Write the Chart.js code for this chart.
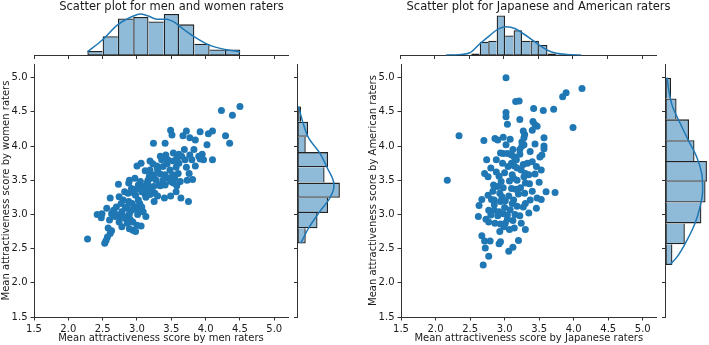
<!DOCTYPE html>
<html>
<head>
<meta charset="utf-8">
<title>Scatter plots</title>
<script src="https://cdn.jsdelivr.net/npm/chart.js@4.4.1/dist/chart.umd.min.js"></script>
<style>
  html, body { margin: 0; padding: 0; background: #fff; }
  #fig { position: relative; width: 709px; height: 345px; overflow: hidden; background: #fff; }
  #fig canvas { position: absolute; }
</style>
</head>
<body>
<div id="fig">
  <canvas id="mainA"></canvas>
  <canvas id="topA"></canvas>
  <canvas id="sideA"></canvas>
  <canvas id="mainB"></canvas>
  <canvas id="topB"></canvas>
  <canvas id="sideB"></canvas>
</div>
<script>
// ---------- Datos ----------
var axisLimits = [1.5, 5.2];
var tickValues = [1.5, 2.0, 2.5, 3.0, 3.5, 4.0, 4.5, 5.0];

// Panel 1: hombres (x) vs mujeres (y)
var menScores = [
  4.50, 4.23, 4.39, 4.35, 4.29, 3.49, 3.72, 3.92, 4.04, 4.10, 3.51, 3.67, 3.77, 3.85, 3.24, 3.41,
  4.02, 3.69, 3.42, 3.34, 3.77, 3.80, 3.95, 3.92, 4.10, 3.97, 3.58, 3.19, 3.06, 3.00, 3.36, 3.45,
  3.53, 3.61, 3.70, 3.57, 3.72, 3.29, 3.38, 3.48, 3.12, 3.25, 3.34, 3.41, 3.52, 3.60, 3.20, 3.16,
  3.28, 2.97, 2.89, 2.73, 2.88, 3.02, 3.09, 3.18, 3.24, 3.45, 3.49, 3.53, 3.63, 3.73, 3.81, 3.41,
  3.58, 3.34, 3.09, 3.16, 3.21, 3.26, 3.19, 3.12, 3.00, 2.92, 2.82, 2.87, 3.40, 3.49, 3.57, 3.64,
  3.75, 2.61, 2.74, 2.80, 2.88, 2.93, 3.04, 3.07, 2.98, 2.85, 2.92, 2.66, 2.70, 2.63, 2.78, 2.89,
  3.01, 3.13, 2.42, 2.48, 2.60, 2.75, 2.83, 2.86, 2.94, 3.06, 2.94, 2.98, 2.63, 2.61, 2.57, 2.55,
  2.53, 2.28, 2.81, 2.90, 2.70, 2.56, 3.15, 3.30, 3.23, 3.44, 3.65, 3.85, 3.76, 3.07, 3.13, 3.30,
  3.05, 2.96, 2.77, 3.01, 2.83, 2.68, 3.00, 2.89, 2.49, 2.74, 3.55, 3.38, 3.18, 3.61, 3.53, 3.83,
  3.90, 3.32, 3.25, 3.02, 3.09, 2.58, 2.78, 3.19, 2.98
];
var womenScores = [
  4.58, 4.52, 4.45, 4.04, 4.15, 4.23, 4.22, 4.21, 4.18, 4.22, 4.16, 4.15, 4.12, 4.09, 4.04, 4.04,
  4.02, 3.95, 3.87, 3.85, 3.87, 3.80, 3.88, 3.81, 3.80, 3.80, 3.82, 3.78, 3.75, 3.71, 3.80, 3.80,
  3.78, 3.75, 3.80, 3.69, 3.69, 3.71, 3.70, 3.65, 3.64, 3.58, 3.59, 3.58, 3.58, 3.60, 3.53, 3.50,
  3.50, 3.53, 3.50, 3.44, 3.46, 3.43, 3.41, 3.41, 3.41, 3.53, 3.48, 3.46, 3.48, 3.50, 3.51, 3.43,
  3.42, 3.42, 3.36, 3.33, 3.34, 3.31, 3.29, 3.29, 3.38, 3.38, 3.33, 3.31, 3.24, 3.27, 3.33, 3.24,
  3.19, 3.24, 3.26, 3.21, 3.19, 3.16, 3.16, 3.11, 3.11, 3.11, 3.06, 3.06, 3.11, 3.01, 3.04, 3.01,
  3.00, 2.97, 3.00, 2.95, 2.92, 2.97, 2.94, 2.87, 2.89, 2.83, 2.77, 2.75, 2.76, 2.72, 2.67, 2.62,
  2.58, 2.64, 2.97, 2.93, 3.00, 3.09, 3.46, 3.66, 3.74, 3.74, 3.85, 3.71, 3.60, 3.33, 3.25, 3.27,
  3.48, 3.31, 3.16, 3.05, 3.09, 2.97, 2.84, 2.79, 3.01, 2.89, 3.53, 3.50, 3.56, 3.88, 3.90, 3.95,
  3.85, 3.43, 3.19, 3.21, 3.04, 2.80, 2.82, 3.65, 3.28
];

// histograma marginal x (hombres)
var menBinEdges = [2.277, 2.500, 2.722, 2.945, 3.168, 3.390, 3.613, 3.836, 4.058, 4.281, 4.503];
var menCounts = [3, 13, 25, 26, 23, 28, 21, 8, 4, 4];
var menKdeX = [2.277, 2.491, 2.714, 2.948, 3.045, 3.166, 3.289, 3.434, 3.531, 3.618, 3.837, 4.056, 4.284, 4.503];
var menKdeY = [2.5, 10.3, 20.5, 26.6, 27.9, 26.6, 24.5, 24.5, 22.8, 19.8, 12.6, 7.0, 4.1, 2.5];

// histograma marginal y (mujeres)
var womenBinEdges = [2.575, 2.798, 3.020, 3.243, 3.466, 3.689, 3.911, 4.134, 4.357, 4.580];
var womenCounts = [7, 17, 26, 36, 23, 26, 7, 9, 3];
var womenKdeY = [2.58, 2.80, 3.02, 3.24, 3.40, 3.46, 3.69, 3.90, 4.12, 4.35, 4.58];
var womenKdeX = [2.8, 9.4, 18.0, 27.4, 30.9, 30.8, 25.0, 18.8, 9.4, 4.5, 0.9];

// Panel 2: japoneses (x) vs americanos (y)
var japaneseScores = [
  3.02, 4.12, 3.89, 3.84, 3.16, 3.21, 3.42, 3.56, 3.71, 3.02, 3.02, 3.04, 3.22, 3.41, 3.44, 3.47,
  3.40, 3.99, 3.27, 3.29, 3.28, 2.34, 2.70, 2.86, 2.90, 2.98, 3.08, 3.02, 3.57, 3.44, 3.57, 3.25,
  3.28, 3.22, 3.57, 2.94, 2.98, 3.04, 3.10, 3.14, 3.22, 3.54, 3.51, 2.74, 2.88, 2.97, 3.10, 3.14,
  3.18, 3.27, 3.33, 3.40, 3.53, 3.44, 3.30, 3.35, 2.71, 2.76, 2.92, 3.00, 3.11, 3.13, 3.07, 3.18,
  2.17, 2.84, 2.90, 2.98, 3.10, 3.23, 3.30, 3.29, 3.60, 3.73, 2.93, 2.67, 2.81, 2.85, 2.94, 3.01,
  3.13, 3.11, 3.27, 3.30, 3.37, 3.47, 3.53, 3.46, 2.63, 2.77, 2.85, 2.92, 2.98, 3.04, 3.15, 3.22,
  2.62, 2.73, 2.77, 2.86, 2.94, 3.01, 3.04, 3.14, 3.07, 2.93, 3.30, 2.67, 2.71, 2.79, 2.92, 2.94,
  3.20, 2.72, 3.12, 3.06, 2.77, 2.69, 2.80, 2.88, 3.05, 3.17, 3.24, 3.36, 3.20, 3.06, 2.96, 2.83,
  2.76, 3.00, 3.08, 3.18, 2.90, 2.80, 3.12, 3.24, 3.35, 2.95, 3.28, 3.46, 3.37, 3.12, 2.99, 3.16,
  2.85, 3.40, 3.50, 3.25
];
var americanScores = [
  5.00, 4.84, 4.78, 4.72, 4.65, 4.66, 4.55, 4.52, 4.54, 4.49, 4.43, 4.32, 4.39, 4.36, 4.31, 4.29,
  4.23, 4.27, 4.22, 4.17, 4.12, 4.15, 4.08, 4.11, 4.09, 4.13, 4.10, 4.02, 4.12, 4.03, 4.00, 4.00,
  4.02, 3.95, 3.96, 3.90, 3.89, 3.89, 3.87, 3.84, 3.88, 3.87, 3.84, 3.80, 3.80, 3.75, 3.75, 3.71,
  3.68, 3.73, 3.75, 3.77, 3.65, 3.59, 3.60, 3.58, 3.60, 3.55, 3.56, 3.61, 3.58, 3.53, 3.49, 3.50,
  3.50, 3.43, 3.41, 3.39, 3.38, 3.39, 3.46, 3.31, 3.33, 3.32, 3.31, 3.22, 3.22, 3.21, 3.19, 3.20,
  3.21, 3.16, 3.11, 3.16, 3.21, 3.24, 3.22, 3.09, 3.13, 3.06, 3.06, 3.04, 3.01, 2.99, 3.00, 2.98,
  2.97, 2.93, 2.89, 2.87, 2.86, 2.87, 2.93, 2.80, 2.78, 2.75, 2.78, 2.69, 2.61, 2.61, 2.57, 2.60,
  2.62, 2.51, 2.52, 2.46, 2.39, 2.26, 3.68, 3.62, 3.70, 3.80, 3.65, 3.45, 3.30, 3.27, 3.26, 3.34,
  3.28, 3.10, 3.07, 3.12, 2.98, 2.99, 2.91, 2.87, 3.02, 3.48, 3.55, 3.70, 3.92, 3.95, 2.82, 3.37,
  3.14, 3.34, 3.47, 4.06
];

// histograma marginal x (japoneses)
var japaneseBinEdges = [2.163, 2.285, 2.408, 2.530, 2.652, 2.775, 2.897, 3.019, 3.141, 3.264,
  3.386, 3.508, 3.631, 3.753, 3.875, 3.998, 4.120];
var japaneseCounts = [1, 1, 0, 2, 13, 14, 38, 19, 24, 14, 14, 10, 2, 1, 1, 1];
var japaneseKdeX = [2.163, 2.35, 2.51, 2.654, 2.80, 2.917, 3.039, 3.158, 3.278, 3.399, 3.519, 3.638, 3.76, 3.904, 4.12];
var japaneseKdeY = [0.3, 0.8, 2.6, 11.2, 19.2, 25.0, 27.2, 25.7, 20.9, 15.4, 9.6, 4.8, 2.2, 1.0, 0.3];

// histograma marginal y (americanos)
var americanBinEdges = [2.26, 2.564, 2.869, 3.173, 3.478, 3.782, 4.086, 4.391, 4.696, 5.0];
var americanCounts = [5, 14, 26, 29, 30, 21, 17, 8, 4];
var americanKdeY = [2.27, 2.38, 2.62, 2.87, 3.11, 3.35, 3.60, 3.84, 4.08, 4.33, 4.57, 4.81, 5.0];
var americanKdeX = [3.6, 8.4, 15.5, 21.4, 25.0, 26.9, 26.2, 22.6, 16.6, 10.7, 5.2, 2.4, 1.2];

// ---------- Estilos ----------
var BLUE = '#1f77b4';
var FILL = 'rgba(31,119,180,0.5)';
var EDGE = 'rgba(10,10,10,0.9)';
var TXT = '#1a1a1a';
var AXIS = '#333333';
var FAMILY = "'DejaVu Sans', sans-serif";

// ---------- Helpers ----------
function _place(id, left, top, w, h) {
    var c = document.getElementById(id);
    c.width = w; c.height = h;
    c.style.left = left + 'px'; c.style.top = top + 'px';
    c.style.width = w + 'px'; c.style.height = h + 'px';
    return c;
}

function _centers(edges) {
    return edges.slice(0, -1).map(function (e, i) { return (e + edges[i + 1]) / 2; });
}

function _pairs(xs, ys) {
    return xs.map(function (x, i) { return { x: x, y: ys[i] }; });
}

// borde compartido entre barras vecinas: lo dibuja solo la barra mas alta
function _edges(counts, horizontal) {
    var w = 1.3;
    return function (ctx) {
        var i = ctx.dataIndex, n = counts.length;
        var after = (i === n - 1 || counts[i] > counts[i + 1]) ? w : 0;
        var before = (i === 0 || counts[i] >= counts[i - 1]) ? w : 0;
        if (horizontal) return { top: after, bottom: before, left: w, right: w };
        return { left: before, right: after, top: w, bottom: w };
    };
}

// eje lineal compartido 1.5..5.2 con ticks fijos
function _axis(position, withLabels, title, size) {
    return {
        type: 'linear', position: position,
        min: axisLimits[0], max: axisLimits[1], offset: false,
        afterBuildTicks: function (s) { s.ticks = tickValues.map(function (v) { return { value: v }; }); },
        afterFit: function (s) {
            if (position === 'bottom') s.height = size; else s.width = size;
        },
        grid: { display: true, drawOnChartArea: false, drawTicks: true, tickLength: 3.5, color: AXIS, lineWidth: 1, offset: false },
        border: { display: true, color: AXIS, width: 1 },
        ticks: {
            display: withLabels, padding: 3, color: TXT, autoSkip: false, maxRotation: 0,
            font: { family: FAMILY, size: 10 },
            callback: function (v) { return Number(v).toFixed(1); }
        },
        title: { display: !!title, text: title || '', color: TXT, padding: { top: 0, bottom: 1 }, font: { family: FAMILY, size: 10 } }
    };
}

function _base(pad) {
    return {
        responsive: false, animation: false, events: [],
        layout: { padding: pad },
        plugins: { legend: { display: false }, tooltip: { enabled: false } }
    };
}

function mainChart(id, xs, ys, xTitle, yTitle, pad) {
    var opts = _base(pad);
    opts.scales = { x: _axis('bottom', true, xTitle, 28), y: _axis('left', true, yTitle, 34) };
    return new Chart(document.getElementById(id), {
        type: 'scatter',
        data: { datasets: [{
            data: _pairs(xs, ys),
            backgroundColor: BLUE, pointRadius: 3.5, pointBorderWidth: 0, pointHoverRadius: 3.5
        }] },
        options: opts
    });
}

function topHist(id, edges, counts, kdeX, kdeY, title, pad, titlePad, spacer) {
    var opts = _base(pad);
    opts.plugins.title = {
        display: true, text: title, color: TXT, padding: titlePad,
        font: { family: FAMILY, size: 11.5, weight: 'normal' }
    };
    opts.scales = {
        x: _axis('bottom', false, '', 4.5),
        y: {
            type: 'linear', position: 'right', min: 0, max: 1.05 * Math.max.apply(null, counts),
            grid: { display: false }, border: { display: false }, ticks: { display: false },
            afterFit: function (s) { s.width = spacer; }
        }
    };
    return new Chart(document.getElementById(id), {
        type: 'bar',
        data: { datasets: [
            { type: 'line', data: _pairs(kdeX, kdeY), borderColor: BLUE, borderWidth: 1.5,
              pointRadius: 0, cubicInterpolationMode: 'monotone', order: 0 },
            { type: 'bar', data: _pairs(_centers(edges), counts), backgroundColor: FILL, borderColor: EDGE,
              borderWidth: _edges(counts, false), borderSkipped: false, inflateAmount: 0,
              barPercentage: 1, categoryPercentage: 1, order: 1 }
        ] },
        options: opts
    });
}

function sideHist(id, edges, counts, kdeY, kdeX, pad) {
    var opts = _base(pad);
    opts.indexAxis = 'y';
    opts.scales = {
        y: _axis('left', false, '', 5.5),
        x: { type: 'linear', display: false, min: 0, max: 1.05 * Math.max.apply(null, counts) }
    };
    return new Chart(document.getElementById(id), {
        type: 'bar',
        data: { datasets: [
            { type: 'line', indexAxis: 'y', data: _pairs(kdeX, kdeY), borderColor: BLUE, borderWidth: 1.5,
              pointRadius: 0, cubicInterpolationMode: 'monotone', order: 0 },
            { type: 'bar', data: _pairs(counts, _centers(edges)), backgroundColor: FILL, borderColor: EDGE,
              borderWidth: _edges(counts, true), borderSkipped: false, inflateAmount: 0,
              barPercentage: 1, categoryPercentage: 1, order: 1 }
        ] },
        options: opts
    });
}

// ---------- Panel 1 ----------
_place('mainA', 0, 0, 300, 345);
_place('topA', 0, 0, 309, 60);
_place('sideA', 292, 0, 50, 345);
mainChart('mainA', menScores, womenScores,
    'Mean attractiveness score by men raters', 'Mean attractiveness score by women raters',
    { top: 64, right: 12, left: 0, bottom: 0 });
topHist('topA', menBinEdges, menCounts, menKdeX, menKdeY, 'Scatter plot for men and women raters',
    { left: 34, right: 0, top: 0, bottom: 0 }, { top: -0.3, bottom: -1.6 }, 21);
sideHist('sideA', womenBinEdges, womenCounts, womenKdeY, womenKdeX, { top: 64, bottom: 28, left: 0, right: 0 });

// ---------- Panel 2 ----------
_place('mainB', 367, 0, 297, 345);
_place('topB', 354, 0, 323, 60);
_place('sideB', 660, 0, 49, 345);
mainChart('mainB', japaneseScores, americanScores,
    'Mean attractiveness score by Japanese raters', 'Mean attractiveness score by American raters',
    { top: 64, right: 7.4, left: 0, bottom: 0 });
topHist('topB', japaneseBinEdges, japaneseCounts, japaneseKdeX, japaneseKdeY, 'Scatter plot for Japanese and American raters',
    { left: 46, right: 0, top: 0, bottom: 0 }, { top: -0.3, bottom: 0 }, 21);
sideHist('sideB', americanBinEdges, americanCounts, americanKdeY, americanKdeX, { top: 64, bottom: 28, left: 0, right: 0 });
</script>
</body>
</html>
